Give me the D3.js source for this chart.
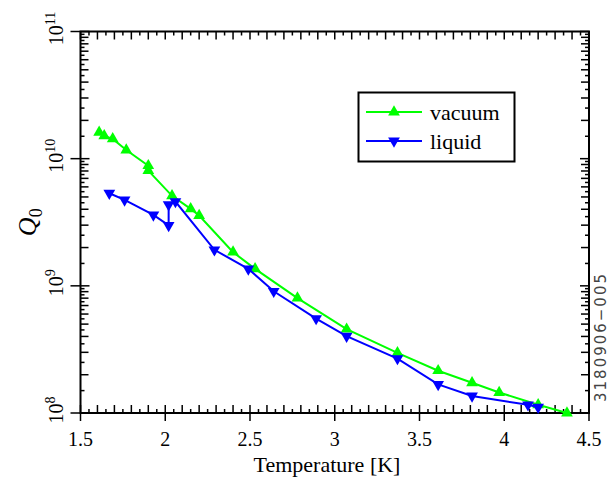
<!DOCTYPE html>
<html>
<head>
<meta charset="utf-8">
<script src="https://cdn.jsdelivr.net/npm/d3@7"></script>
<style>
    body { margin: 0; background: #fff; }
    text { font-family: "Liberation Serif", "Times New Roman", serif; }
</style>
</head>
<body>
<svg width="613" height="479"></svg>
<script>
// values
let vacuumT = [1.61, 1.64, 1.69, 1.77, 1.90, 1.90, 2.04, 2.15, 2.20, 2.40, 2.53, 2.78, 3.07, 3.37, 3.61, 3.81, 3.97, 4.20, 4.37];
let vacuumQ = [1.61e10, 1.51e10, 1.43e10, 1.17e10, 8.8e9, 8.05e9, 5.1e9, 4.03e9, 3.57e9, 1.84e9, 1.36e9, 8.0e8, 4.56e8, 2.97e8, 2.15e8, 1.73e8, 1.45e8, 1.16e8, 1.0e8];

let liquidT = [1.67, 1.76, 1.93, 2.02, 2.02, 2.06, 2.29, 2.49, 2.64, 2.89, 3.07, 3.37, 3.61, 3.81, 4.14, 4.20];
let liquidQ = [5.35e9, 4.74e9, 3.61e9, 2.99e9, 4.35e9, 4.6e9, 1.92e9, 1.36e9, 9.06e8, 5.53e8, 4.02e8, 2.68e8, 1.68e8, 1.36e8, 1.16e8, 1.11e8];

let xTicks = [1.5, 2, 2.5, 3, 3.5, 4, 4.5];
let xTickLabels = ["1.5", "2", "2.5", "3", "3.5", "4", "4.5"];
let yDecades = [8, 9, 10, 11];

let seriesNames = ["vacuum", "liquid"];
let seriesColors = ["#00ff00", "#0000ff"];

(function () {
    'use strict';

    let svg = d3.select("svg");

    let pLeft = 80.5, pRight = 589, pTop = 31.5, pBottom = 413;

    let x = d3.scaleLinear().domain([1.5, 4.5]).range([pLeft, pRight]);
    let y = d3.scaleLog().domain([1e8, 1e11]).range([pBottom, pTop]);

    let axisColor = "#000";

    // ---- ticks ----
    let ticks = svg.append("g").attr("stroke", axisColor).attr("stroke-width", 1.5);

    // x ticks every 0.05, longer every 0.1, crossing at 0.5
    d3.range(30, 91).forEach(function (i) {
        let px = x(i / 20);
        let len = (i % 2 === 0) ? 8 : 4;
        let out = (i % 10 === 0) ? 8 : 0;
        ticks.append("line").attr("x1", px).attr("x2", px).attr("y1", pBottom + out).attr("y2", pBottom - len);
        ticks.append("line").attr("x1", px).attr("x2", px).attr("y1", pTop).attr("y2", pTop + len);
    });

    // y ticks: decades crossing, minor at k and k+0.5
    [8, 9, 10].forEach(function (d) {
        for (let k = 1.5; k < 10; k += 0.5) {
            let py = y(k * Math.pow(10, d));
            let len = (k % 1 === 0) ? 8 : 4;
            ticks.append("line").attr("x1", pLeft).attr("x2", pLeft + len).attr("y1", py).attr("y2", py);
            ticks.append("line").attr("x1", pRight).attr("x2", pRight - len).attr("y1", py).attr("y2", py);
        }
    });
    yDecades.forEach(function (d) {
        let py = y(Math.pow(10, d));
        ticks.append("line").attr("x1", pLeft - 10).attr("x2", pLeft + 9).attr("y1", py).attr("y2", py);
        ticks.append("line").attr("x1", pRight).attr("x2", pRight - 9).attr("y1", py).attr("y2", py);
    });

    // frame
    svg.append("rect")
        .attr("x", pLeft).attr("y", pTop)
        .attr("width", pRight - pLeft).attr("height", pBottom - pTop)
        .attr("fill", "none").attr("stroke", axisColor).attr("stroke-width", 2);

    // ---- tick labels ----
    svg.append("g").selectAll("text")
        .data(xTicks)
        .enter().append("text")
        .attr("x", function (d) { return x(d); })
        .attr("y", 446)
        .attr("text-anchor", "middle")
        .style("font-size", "20px")
        .text(function (d, i) { return xTickLabels[i]; });

    let yl = svg.append("g").selectAll("text")
        .data(yDecades)
        .enter().append("text")
        .attr("transform", function (d) {
            return "translate(63," + (y(Math.pow(10, d)) - 3) + ") rotate(-90)";
        })
        .attr("text-anchor", "middle")
        .style("font-size", "20px");
    yl.append("tspan").text("10");
    yl.append("tspan").attr("dy", -8).style("font-size", "14px").text(function (d) { return d; });

    // axis titles
    svg.append("text")
        .attr("x", 327)
        .attr("y", 472)
        .attr("text-anchor", "middle")
        .style("font-size", "22px")
        .text("Temperature [K]");

    let qt = svg.append("text")
        .attr("transform", "translate(36," + ((pTop + pBottom) / 2) + ") rotate(-90)")
        .attr("text-anchor", "middle")
        .style("font-size", "26px")
        .style("font-style", "italic");
    qt.append("tspan").text("Q");
    qt.append("tspan").attr("dy", 6).style("font-size", "18px").style("font-style", "normal").text("0");

    // ---- series ----
    let series = [
        {name: seriesNames[0], color: seriesColors[0], up: true,
            values: vacuumT.map(function (t, i) { return {T: t, Q: vacuumQ[i]}; })},
        {name: seriesNames[1], color: seriesColors[1], up: false,
            values: liquidT.map(function (t, i) { return {T: t, Q: liquidQ[i]}; })}
    ];

    let line = d3.line()
        .x(function (d) { return x(d.T); })
        .y(function (d) { return y(d.Q); });

    let tri = d3.symbol().type(d3.symbolTriangle).size(60);

    series.forEach(function (s) {
        let g = svg.append("g");
        g.append("path")
            .attr("d", line(s.values))
            .attr("fill", "none")
            .attr("stroke", s.color)
            .attr("stroke-width", 2);
        g.selectAll("path.m")
            .data(s.values)
            .enter().append("path")
            .attr("class", "m")
            .attr("d", tri)
            .attr("transform", function (d) {
                return "translate(" + x(d.T) + "," + y(d.Q) + ")" + (s.up ? "" : " rotate(180)");
            })
            .attr("fill", s.color);
    });

    // ---- legend ----
    let legend = svg.append("g");
    legend.append("rect")
        .attr("x", 358.5).attr("y", 92.5)
        .attr("width", 156).attr("height", 69)
        .attr("fill", "#fff").attr("stroke", "#000").attr("stroke-width", 2);

    series.forEach(function (s, i) {
        let ly = 112 + i * 29;
        legend.append("line")
            .attr("x1", 366).attr("x2", 422)
            .attr("y1", ly).attr("y2", ly)
            .attr("stroke", s.color).attr("stroke-width", 2);
        legend.append("path")
            .attr("d", tri)
            .attr("transform", "translate(394," + ly + ")" + (s.up ? "" : " rotate(180)"))
            .attr("fill", s.color);
        legend.append("text")
            .attr("x", 430)
            .attr("y", ly + 8)
            .style("font-size", "22px")
            .text(s.name);
    });

    // figure id on the right
    svg.append("text")
        .attr("transform", "translate(606,337) rotate(-90)")
        .attr("text-anchor", "middle")
        .style("font-family", "'DejaVu Sans', sans-serif")
        .style("font-size", "15px")
        .style("letter-spacing", "2px")
        .attr("fill", "#444")
        .text("3180906\u2212005");
}());
</script>
</body>
</html>
